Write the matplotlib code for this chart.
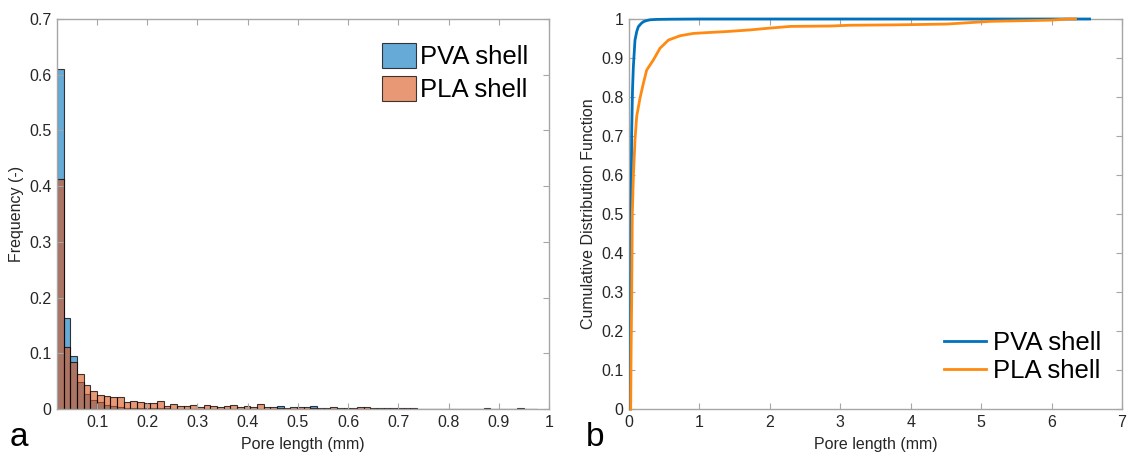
import numpy as np
import matplotlib
matplotlib.use("Agg")
import matplotlib.pyplot as plt
from matplotlib.patches import Patch
from matplotlib.lines import Line2D

plt.rcParams['font.family'] = ['Liberation Sans', 'DejaVu Sans']

# ---------------- data ----------------
bin_start = 0.0203
bin_width = 0.01328

pva_freq = [0.610, 0.163, 0.095, 0.049, 0.027, 0.017, 0.0125, 0.008, 0.005, 0.0036,
            0.0024, 0.002, 0.0016, 0.0013, 0.0011, 0.001, 0.0009, 0.0008, 0.0007, 0.0006,
            0.0006, 0.0005, 0.0005, 0.0004, 0.0004, 0.0004, 0.0003, 0.0003, 0.0003, 0.0003,
            0.0003, 0.0002, 0.0002, 0.0048, 0.0002, 0.0002, 0.0002, 0.0002, 0.0048, 0.0002,
            0.0002, 0.0002, 0.0002, 0.0001, 0.0001, 0.0002, 0.0002, 0.0001, 0.0001, 0.0001,
            0.0002, 0.0001, 0.0001, 0.0001, 0.0001, 0.0001, 0.0001, 0.0001, 0.0001, 0.0001,
            0.0001, 0.0001, 0.0001, 0.0, 0.0001, 0.0, 0.0, 0.0, 0.0, 0.0001,
            0.0, 0.0]

pla_freq = [0.413, 0.111, 0.084, 0.062, 0.0425, 0.032, 0.0245, 0.0227, 0.0216, 0.021,
            0.0126, 0.0144, 0.012, 0.0108, 0.0108, 0.0144, 0.0048, 0.0096, 0.005, 0.005,
            0.007, 0.003, 0.0078, 0.0054, 0.003, 0.006, 0.007, 0.003, 0.0054, 0.004,
            0.009, 0.003, 0.003, 0.002, 0.0012, 0.003, 0.003, 0.003, 0.002, 0.0024,
            0.0024, 0.0036, 0.0024, 0.0024, 0.0012, 0.003, 0.003, 0.0012, 0.0012, 0.0024,
            0.0024, 0.0012, 0.002, 0.0024, 0.0008, 0.0008, 0.0006, 0.0006, 0.0008, 0.0008,
            0.0008, 0.0008, 0.0005, 0.0, 0.0015, 0.0, 0.0, 0.0, 0.0, 0.001,
            0.0, 0.0]

pva_cdf_x = [0.02, 0.024, 0.030, 0.038, 0.050, 0.062, 0.085, 0.11, 0.132, 0.17, 0.204, 0.25,
             0.30, 0.40, 0.60, 1.0, 2.0, 4.0, 6.54]
pva_cdf_y = [0.0, 0.30, 0.52, 0.707, 0.82, 0.878, 0.946, 0.968, 0.98, 0.988, 0.993, 0.996,
             0.998, 0.999, 0.9995, 1.0, 1.0, 1.0, 1.0]

pla_cdf_x = [0.024, 0.030, 0.038, 0.047, 0.062, 0.085, 0.109, 0.156, 0.204, 0.251, 0.346,
             0.44, 0.56, 0.724, 0.914, 1.10, 1.40, 1.72, 1.956, 2.29, 2.855, 3.14, 3.80, 4.51,
             5.13, 5.98, 6.22, 6.34]
pla_cdf_y = [0.0, 0.15, 0.28, 0.50, 0.596, 0.69, 0.75, 0.797, 0.835, 0.869, 0.895,
             0.925, 0.946, 0.957, 0.963, 0.965, 0.968, 0.972, 0.976, 0.981, 0.982, 0.984, 0.985,
             0.987, 0.994, 0.997, 1.0, 1.0]

hist_xticks = [0.1, 0.2, 0.3, 0.4, 0.5, 0.6, 0.7, 0.8, 0.9, 1.0]
hist_xticklabels = ['0.1', '0.2', '0.3', '0.4', '0.5', '0.6', '0.7', '0.8', '0.9', '1']
hist_yticks = [0, 0.1, 0.2, 0.3, 0.4, 0.5, 0.6, 0.7]
hist_yticklabels = ['0', '0.1', '0.2', '0.3', '0.4', '0.5', '0.6', '0.7']
cdf_xticks = [0, 1, 2, 3, 4, 5, 6, 7]
cdf_yticks = [0, 0.1, 0.2, 0.3, 0.4, 0.5, 0.6, 0.7, 0.8, 0.9, 1.0]
cdf_yticklabels = ['0', '0.1', '0.2', '0.3', '0.4', '0.5', '0.6', '0.7', '0.8', '0.9', '1']
series_names = ['PVA shell', 'PLA shell']

# ---------------- style ----------------
blue = (0.0, 0.447, 0.741)
red = (0.85, 0.325, 0.098)
line_blue = '#0072BD'
line_orange = '#FF8A12'
spine_c = '#a6a6a6'
text_c = '#262626'

fig = plt.figure(figsize=(11.27, 4.53), dpi=100)
ax1 = fig.add_axes([57/1127, 44/453, (549-57)/1127, (409-19)/453])
ax2 = fig.add_axes([629/1127, 44/453, (1122-629)/1127, (409-19)/453])

edges = bin_start + bin_width * np.arange(len(pva_freq) + 1)
ax1.bar(edges[:-1], pva_freq, width=np.diff(edges), align='edge',
        facecolor=blue + (0.6,), edgecolor=(0, 0, 0, 0.75), linewidth=0.8)
ax1.bar(edges[:-1], pla_freq, width=np.diff(edges), align='edge',
        facecolor=red + (0.6,), edgecolor=(0, 0, 0, 0.75), linewidth=0.8)

ax1.set_xlim(bin_start, 1.0)
ax1.set_ylim(0, 0.7)
ax1.set_xticks(hist_xticks)
ax1.set_xticklabels(hist_xticklabels)
ax1.set_yticks(hist_yticks)
ax1.set_yticklabels(hist_yticklabels)
ax1.set_xlabel('Pore length (mm)', fontsize=11.5, color=text_c, labelpad=5)
ax1.set_ylabel('Frequency (-)', fontsize=11.5, color=text_c, labelpad=4)

handles1 = [Patch(facecolor=blue + (0.6,), edgecolor=(0, 0, 0, 0.75), linewidth=0.8),
            Patch(facecolor=red + (0.6,), edgecolor=(0, 0, 0, 0.75), linewidth=0.8)]
ax1.legend(handles1, series_names, loc='upper right', fontsize=18.5, frameon=False,
           handlelength=1.35, handleheight=1.15, handletextpad=0.15, labelspacing=0.25,
           borderaxespad=0.3, bbox_to_anchor=(0.995, 0.985))

ax2.plot(pva_cdf_x, pva_cdf_y, color=line_blue, linewidth=2.0, clip_on=False, zorder=3)
ax2.plot(pla_cdf_x, pla_cdf_y, color=line_orange, linewidth=2.0, clip_on=False, zorder=4)
ax2.set_xlim(0, 7)
ax2.set_ylim(0, 1)
ax2.set_xticks(cdf_xticks)
ax2.set_yticks(cdf_yticks)
ax2.set_yticklabels(cdf_yticklabels)
ax2.set_xlabel('Pore length (mm)', fontsize=11.5, color=text_c, labelpad=5)
ax2.set_ylabel('Cumulative Distribution Function', fontsize=11.5, color=text_c, labelpad=4)

handles2 = [Line2D([], [], color=line_blue, linewidth=2.0),
            Line2D([], [], color=line_orange, linewidth=2.0)]
ax2.legend(handles2, series_names, loc='lower right', fontsize=18.5, frameon=False,
           handlelength=1.6, handletextpad=0.3, labelspacing=0.15,
           borderaxespad=0.3, bbox_to_anchor=(0.995, 0.02))

for ax in (ax1, ax2):
    for s in ax.spines.values():
        s.set_color(spine_c)
        s.set_linewidth(1.0)
    ax.tick_params(direction='in', length=4, width=0.8, color=spine_c,
                   labelsize=11.5, labelcolor=text_c, top=True, right=True, pad=4)

fig.text(10/1127, 1 - 437/453, 'a', fontsize=24, color='black', va='center', ha='left')
fig.text(586/1127, 1 - 437/453, 'b', fontsize=24, color='black', va='center', ha='left')

fig.savefig('out.png', dpi=100)
